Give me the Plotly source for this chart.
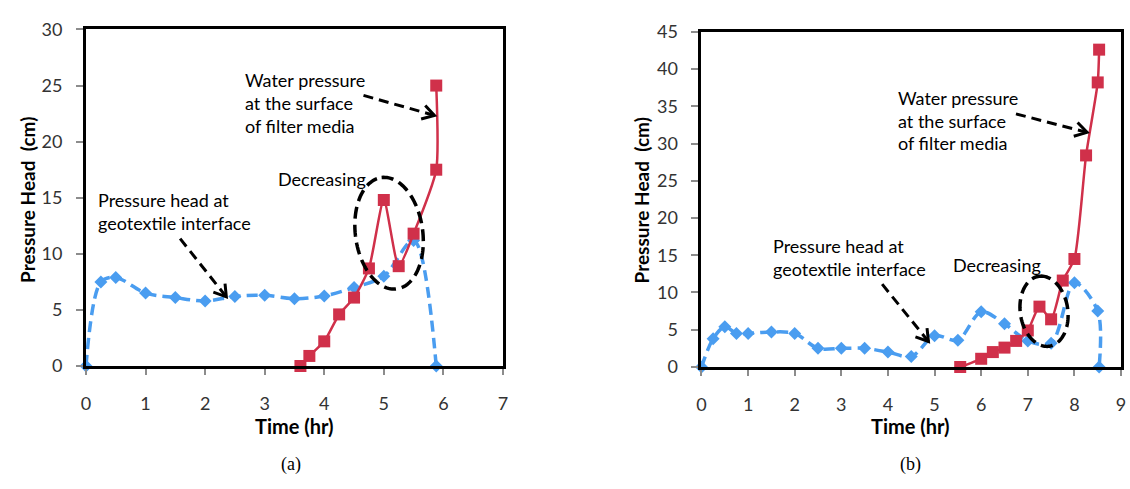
import numpy as np
import plotly.graph_objects as go

W, H = 1130, 489

# ---------------- data ----------------
# panel (a)
time_geo_a = [0, 0.25, 0.5, 1.0, 1.5, 2.0, 2.5, 3.0, 3.5, 4.0, 4.5, 5.0, 5.5, 5.88]
head_geo_a = [0, 7.5, 7.9, 6.5, 6.1, 5.8, 6.2, 6.3, 6.0, 6.25, 7.0, 8.0, 11.2, 0]
time_surf_a = [3.6, 3.75, 4.0, 4.25, 4.5, 4.75, 5.0, 5.25, 5.5, 5.88, 5.88]
head_surf_a = [0, 0.9, 2.2, 4.6, 6.1, 8.7, 14.8, 8.9, 11.8, 17.5, 25.0]

# panel (b)
time_geo_b = [0, 0.25, 0.5, 0.75, 1.0, 1.5, 2.0, 2.5, 3.0, 3.5, 4.0, 4.5, 5.0,
              5.5, 6.0, 6.5, 7.0, 7.5, 8.0, 8.5, 8.53]
head_geo_b = [0, 3.8, 5.4, 4.5, 4.5, 4.7, 4.5, 2.5, 2.5, 2.5, 2.0, 1.4, 4.2,
              3.6, 7.4, 5.8, 3.5, 3.2, 11.3, 7.5, 0]
time_surf_b = [5.55, 6.0, 6.25, 6.5, 6.75, 7.0, 7.25, 7.5, 7.75, 8.0, 8.25, 8.5, 8.53]
head_surf_b = [0, 1.1, 2.0, 2.6, 3.5, 4.9, 8.1, 6.4, 11.6, 14.5, 28.4, 38.2, 42.6]

x_ticks_a = [0, 1, 2, 3, 4, 5, 6, 7]
y_ticks_a = [0, 5, 10, 15, 20, 25, 30]
x_ticks_b = [0, 1, 2, 3, 4, 5, 6, 7, 8, 9]
y_ticks_b = [0, 5, 10, 15, 20, 25, 30, 35, 40, 45]

# ---------------- styling ----------------
BLUE = "#4A9DF0"
RED = "#D0304A"
FONT = "Lato"
TICKCOL = "#333333"


def px(x):
    return x / W


def py(y):
    return 1 - y / H


fig = go.Figure()

fig.add_trace(go.Scatter(x=time_geo_a, y=head_geo_a, mode="lines+markers",
                         line=dict(color=BLUE, width=3.5, dash="11px,6px", shape="spline", smoothing=0.9),
                         marker=dict(symbol="diamond", size=10, color=BLUE),
                         cliponaxis=False, xaxis="x", yaxis="y"))
fig.add_trace(go.Scatter(x=time_surf_a, y=head_surf_a, mode="lines+markers",
                         line=dict(color=RED, width=2.5, shape="spline", smoothing=0.6),
                         marker=dict(symbol="square", size=12, color=RED),
                         cliponaxis=False, xaxis="x", yaxis="y"))
fig.add_trace(go.Scatter(x=time_geo_b, y=head_geo_b, mode="lines+markers",
                         line=dict(color=BLUE, width=3.5, dash="11px,6px", shape="spline", smoothing=0.9),
                         marker=dict(symbol="diamond", size=10, color=BLUE),
                         cliponaxis=False, xaxis="x2", yaxis="y2"))
fig.add_trace(go.Scatter(x=time_surf_b, y=head_surf_b, mode="lines+markers",
                         line=dict(color=RED, width=2.5, shape="spline", smoothing=0.6),
                         marker=dict(symbol="square", size=12, color=RED),
                         cliponaxis=False, xaxis="x2", yaxis="y2"))

axis_common = dict(showgrid=False, zeroline=False, showline=True, linewidth=3,
                   linecolor="black", mirror=True, ticks="outside",
                   tickcolor="#8c8c8c", tickwidth=1.5,
                   tickfont=dict(family=FONT, size=18, color=TICKCOL))

fig.update_layout(
    width=W, height=H,
    margin=dict(l=0, r=0, t=0, b=0),
    paper_bgcolor="white", plot_bgcolor="white",
    showlegend=False,
    xaxis=dict(domain=[px(81.7), px(502.4)], range=[0, 7], tickvals=x_ticks_a,
               ticklen=6, ticklabelstandoff=13, anchor="y", **axis_common),
    yaxis=dict(domain=[py(370.7), py(18.3)], range=[0, 30], tickvals=y_ticks_a,
               ticklen=7, ticklabelstandoff=10, anchor="x", **axis_common),
    xaxis2=dict(domain=[px(702.7), px(1126)], range=[0, 9], tickvals=x_ticks_b,
                ticklen=6, ticklabelstandoff=13, anchor="y2", **axis_common),
    yaxis2=dict(domain=[py(371.7), py(20.7)], range=[0, 45], tickvals=y_ticks_b,
                ticklen=7, ticklabelstandoff=10, anchor="x2", **axis_common),
)

annotations = []


def text(x, y, s, size=18, bold=False, xanchor="left", angle=0, family=FONT, color="black"):
    annotations.append(dict(
        x=px(x), y=py(y), xref="paper", yref="paper", text=("<b>%s</b>" % s) if bold else s,
        showarrow=False, xanchor=xanchor, yanchor="middle", textangle=angle,
        font=dict(family=family, size=size, color=color)))


# panel (a) labels
text(240, 71, "Water pressure")
text(240, 95, "at the surface")
text(240, 119, "of filter media")
text(273, 175, "Decreasing")
text(92, 197, "Pressure head at")
text(92, 221, "geotextile interface")
# panel (b) labels
text(898.7, 90, "Water pressure")
text(898.7, 114, "at the surface")
text(898.7, 137.5, "of filter media")
text(954, 265, "Decreasing")
text(772.7, 245, "Pressure head at")
text(772.7, 269, "geotextile interface")

# axis titles
YT = "Pressure Head\u00a0 (cm)"
text(292, 434, "Time (hr)", size=20, bold=True, xanchor="center")
text(914, 434, "Time (hr)", size=20, bold=True, xanchor="center")
text(22, 197, YT, size=19, bold=True, xanchor="center", angle=-90)
text(642, 197, YT, size=19, bold=True, xanchor="center", angle=-90)
# captions
text(289, 474, "(a)", size=18, xanchor="center", family="Liberation Serif")
text(914, 474, "(b)", size=18, xanchor="center", family="Liberation Serif")

shapes = []


def arrow(x0, y0, x1, y1, head=14, ang=32):
    shapes.append(dict(type="line", xref="paper", yref="paper",
                       x0=px(x0), y0=py(y0), x1=px(x1), y1=py(y1),
                       line=dict(color="black", width=3, dash="10px,6px")))
    d = np.array([x1 - x0, y1 - y0], dtype=float)
    d /= np.linalg.norm(d)
    pts = []
    for s in (1, -1):
        a = np.radians(ang) * s
        r = np.array([d[0] * np.cos(a) - d[1] * np.sin(a), d[0] * np.sin(a) + d[1] * np.cos(a)])
        pts.append((x1 - head * r[0], y1 - head * r[1]))
    path = "M %f %f L %f %f L %f %f" % (px(pts[0][0]), py(pts[0][1]), px(x1), py(y1),
                                        px(pts[1][0]), py(pts[1][1]))
    shapes.append(dict(type="path", xref="paper", yref="paper", path=path,
                       line=dict(color="black", width=3)))


def ellipse(top, bottom, b, n=120):
    top = np.array(top, dtype=float)
    bottom = np.array(bottom, dtype=float)
    c = (top + bottom) / 2
    u = top - bottom
    a = np.linalg.norm(u) / 2
    u /= np.linalg.norm(u)
    v = np.array([-u[1], u[0]])
    t = np.linspace(0, 2 * np.pi, n)
    pts = [c + a * np.cos(tt) * u + b * np.sin(tt) * v for tt in t]
    path = "M " + " L ".join("%f %f" % (px(p[0]), py(p[1])) for p in pts) + " Z"
    shapes.append(dict(type="path", xref="paper", yref="paper", path=path,
                       line=dict(color="black", width=3.5, dash="12px,6px")))


arrow(361.7, 87.3, 433.3, 108.3)
arrow(176.7, 237.3, 223.3, 298.3)
arrow(1020, 106.7, 1091.7, 126)
arrow(885, 285, 931.7, 345)
ellipse((380, 173.3), (395, 290), 34)
ellipse((1043.3, 276.7), (1053.3, 350), 24)

fig.update_layout(annotations=annotations, shapes=shapes)
fig.write_html("out.html")
